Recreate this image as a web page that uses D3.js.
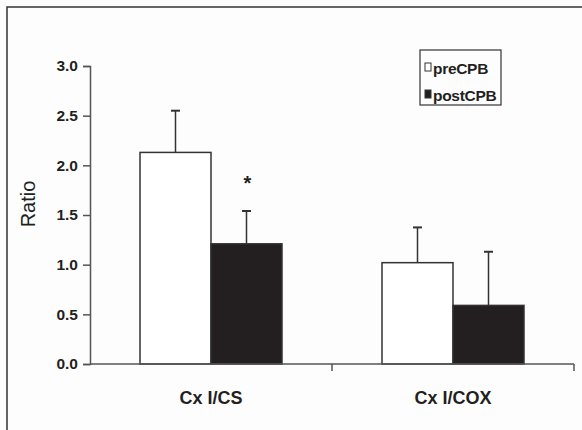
<!DOCTYPE html>
<html>
<head>
<meta charset="utf-8">
<script src="https://cdn.jsdelivr.net/npm/d3@7"></script>
<style>
  body { margin: 0; background: #fdfdfd; }
  svg { display: block; font-family: "Liberation Sans", Arial, sans-serif; }
</style>
</head>
<body>
<div id="chart"></div>
<script>
// data
const categories = ["Cx I/CS", "Cx I/COX"];
const series = ["preCPB", "postCPB"];
const meanPre = [2.13, 1.02];
const meanPost = [1.21, 0.59];
const errPre = [2.55, 1.375];   // top of error bar
const errPost = [1.54, 1.13];
const yTicks = [0, 0.5, 1.0, 1.5, 2.0, 2.5, 3.0];

const width = 582, height = 430;
const fill = { preCPB: "#ffffff", postCPB: "#231f20" };

const svg = d3.select("#chart").append("svg")
    .attr("width", width)
    .attr("height", height);

// outer frame (only top and left sides show in the picture)
svg.append("rect")
    .attr("x", 7).attr("y", 7)
    .attr("width", 600).attr("height", 500)
    .attr("fill", "none")
    .attr("stroke", "#333")
    .attr("stroke-width", 1.5);

const x0 = d3.scaleBand().domain(categories).range([90, 574]);
const x1 = d3.scaleBand().domain(series).range([0, 142]);
const y = d3.scaleLinear().domain([0, 3]).range([364, 66]);
const off = (x0.bandwidth() - 142) / 2;

const rows = categories.map((c, i) => ({
    cat: c,
    bars: [
        { s: "preCPB", v: meanPre[i], e: errPre[i] },
        { s: "postCPB", v: meanPost[i], e: errPost[i] }
    ]
}));

const groups = svg.append("g").selectAll("g")
    .data(rows)
    .join("g")
    .attr("transform", d => `translate(${x0(d.cat) + off},0)`);

// error bars first so the bar top covers the stem base
groups.selectAll("g.err")
    .data(d => d.bars)
    .join("g")
    .attr("class", "err")
    .each(function (d) {
        const g = d3.select(this);
        const cx = x1(d.s) + x1.bandwidth() / 2;
        g.append("line")
            .attr("x1", cx).attr("x2", cx)
            .attr("y1", y(d.v)).attr("y2", y(d.e))
            .attr("stroke", "#333").attr("stroke-width", 1.5);
        g.append("line")
            .attr("x1", cx - 4.5).attr("x2", cx + 4.5)
            .attr("y1", y(d.e)).attr("y2", y(d.e))
            .attr("stroke", "#333").attr("stroke-width", 2);
    });

groups.selectAll("rect")
    .data(d => d.bars)
    .join("rect")
    .attr("x", d => x1(d.s))
    .attr("y", d => y(d.v))
    .attr("width", x1.bandwidth())
    .attr("height", d => y(0) - y(d.v))
    .attr("fill", d => fill[d.s])
    .attr("stroke", "#333")
    .attr("stroke-width", 1.5);

// significance star over postCPB in first group
svg.append("text")
    .attr("x", x0(categories[0]) + off + x1("postCPB") + x1.bandwidth() / 2 + 1)
    .attr("y", y(errPost[0]) - 21)
    .attr("text-anchor", "middle")
    .attr("font-size", 20)
    .attr("font-weight", "bold")
    .attr("fill", "#231f20")
    .text("*");

// y axis
const yAxis = svg.append("g")
    .attr("transform", "translate(90,0)")
    .call(d3.axisLeft(y).tickValues(yTicks).tickFormat(d3.format(".1f")).tickSizeOuter(0).tickSize(7).tickPadding(5));
yAxis.select(".domain").attr("stroke", "#555").attr("stroke-width", 1.5);
yAxis.selectAll(".tick line").attr("stroke", "#555").attr("stroke-width", 1.5);
yAxis.selectAll(".tick text")
    .style("font-size", "15.5px")
    .style("font-weight", "bold")
    .style("font-family", "'Liberation Sans', Arial, sans-serif")
    .attr("fill", "#231f20");

// x axis: line with ticks at band boundaries
const xAxis = svg.append("g");
xAxis.append("line")
    .attr("x1", 90).attr("x2", 574)
    .attr("y1", y(0)).attr("y2", y(0))
    .attr("stroke", "#555").attr("stroke-width", 1.5);
xAxis.selectAll("line.tk")
    .data(categories)
    .join("line")
    .attr("class", "tk")
    .attr("x1", d => x0(d) + x0.bandwidth())
    .attr("x2", d => x0(d) + x0.bandwidth())
    .attr("y1", y(0)).attr("y2", y(0) + 7)
    .attr("stroke", "#555").attr("stroke-width", 1.5);
xAxis.selectAll("text")
    .data(categories)
    .join("text")
    .attr("x", d => x0(d) + x0.bandwidth() / 2)
    .attr("y", 404)
    .attr("text-anchor", "middle")
    .attr("font-size", 18)
    .attr("font-weight", "bold")
    .attr("fill", "#231f20")
    .text(d => d);

// y label
svg.append("text")
    .attr("transform", "translate(35,204) rotate(-90)")
    .attr("text-anchor", "middle")
    .attr("font-size", 20)
    .attr("fill", "#231f20")
    .text("Ratio");

// legend
const legend = svg.append("g");
legend.append("rect")
    .attr("x", 420).attr("y", 50)
    .attr("width", 81).attr("height", 55)
    .attr("fill", "none")
    .attr("stroke", "#333")
    .attr("stroke-width", 1.2);
const item = legend.selectAll("g")
    .data(series)
    .join("g")
    .attr("transform", (d, i) => `translate(425,${63 + i * 27})`);
item.append("rect")
    .attr("width", 6).attr("height", 8)
    .attr("fill", d => fill[d])
    .attr("stroke", "#333")
    .attr("stroke-width", 1);
item.append("text")
    .attr("x", 8)
    .attr("y", 11)
    .attr("font-size", 15.5)
    .attr("font-weight", "bold")
    .attr("letter-spacing", -0.3)
    .attr("fill", "#231f20")
    .text(d => d);
</script>
</body>
</html>
